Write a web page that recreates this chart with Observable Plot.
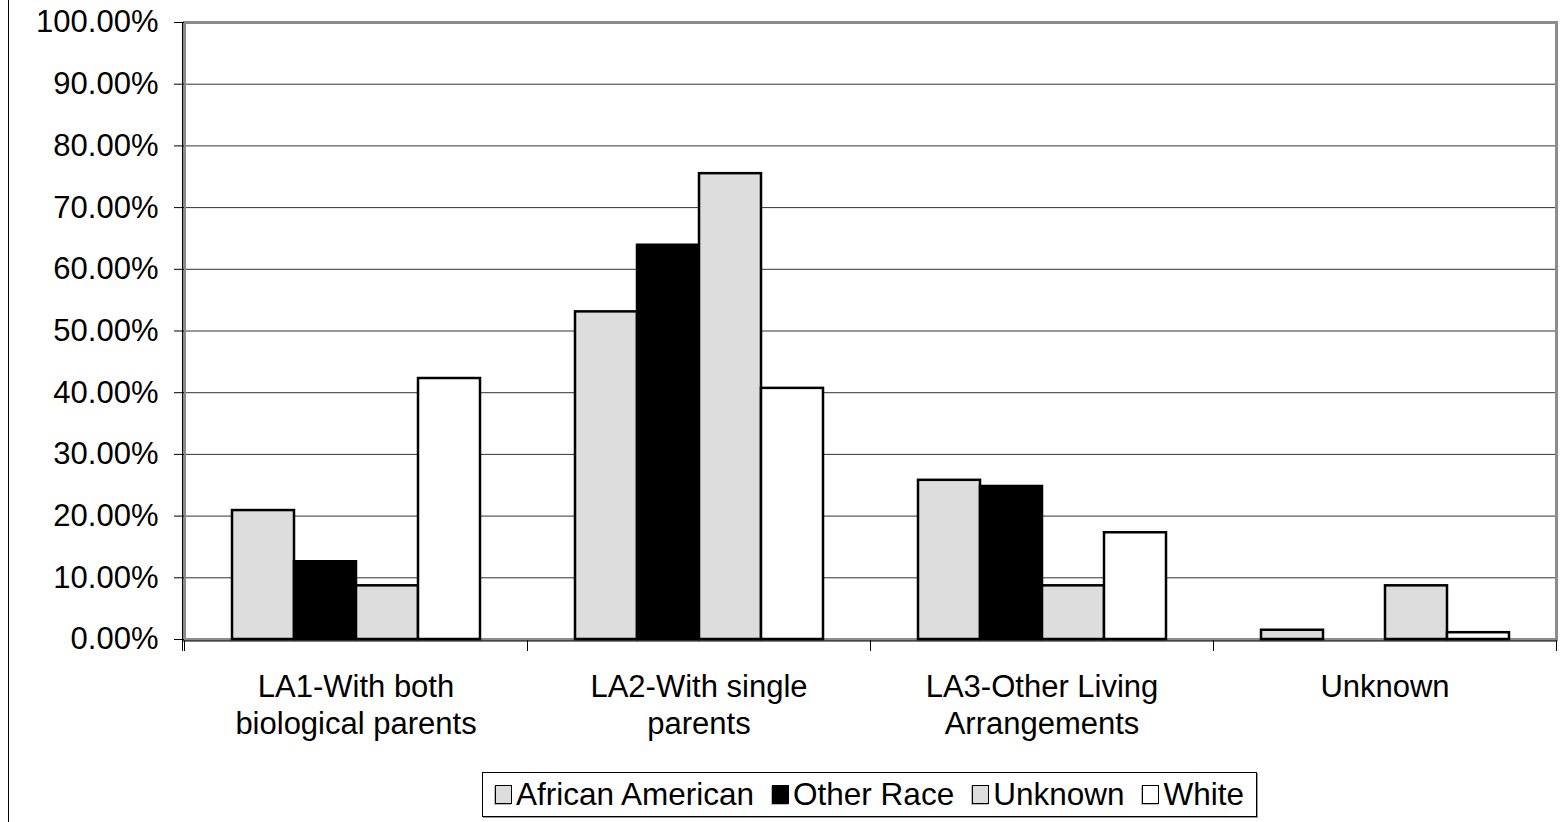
<!DOCTYPE html>
<html><head><meta charset="utf-8">
<script src="https://cdn.jsdelivr.net/npm/d3@7"></script>
<script src="https://cdn.jsdelivr.net/npm/@observablehq/plot@0.6"></script>
<style>
body{margin:0;background:#fff;font-family:"Liberation Sans",Arial,sans-serif;}
#wrap{position:relative;width:1564px;height:822px;overflow:hidden;background:#fff;}
#edge{position:absolute;left:8px;top:0;bottom:0;border-left:1px solid #000;}
#chart svg{display:block;}
#legendRow{display:flex;justify-content:center;padding-left:183px;padding-right:8px;margin-top:12px;}
.legend{display:flex;align-items:center;border:1px solid #000;box-shadow:1px 1px 0 #999;height:43px;padding:0 12px 0 12px;font-size:31.5px;color:#000;}
.item{display:flex;align-items:center;margin-right:18px;}
.item:last-child{margin-right:0;}
.sw{width:15px;height:17px;border:1.5px solid #000;margin-right:4px;box-shadow:-1px 1px 0 #bbb;}
</style></head>
<body>
<div id="wrap"><div id="edge"></div><div id="chart"></div><div id="legendRow"><div class="legend" id="legend"></div></div></div>
<script>
const categories = ["LA1", "LA2", "LA3", "Unknown"];
const categoryLabels = ["LA1-With both\nbiological parents", "LA2-With single\nparents", "LA3-Other Living\nArrangements", "Unknown"];
const series = ["African American", "Other Race", "Unknown", "White"];
const fills = ["#dddddd", "#000000", "#dddddd", "#ffffff"];
const africanAmerican = [0.209, 0.531, 0.258, 0.015];
const otherRace = [0.126, 0.639, 0.248, 0];
const unknownRace = [0.087, 0.755, 0.087, 0.087];
const white = [0.423, 0.407, 0.173, 0.011];
const yTicks = [0, 0.1, 0.2, 0.3, 0.4, 0.5, 0.6, 0.7, 0.8, 0.9, 1];
const yTickLabels = ["0.00%", "10.00%", "20.00%", "30.00%", "40.00%", "50.00%", "60.00%", "70.00%", "80.00%", "90.00%", "100.00%"];

const valuesBySeries = [africanAmerican, otherRace, unknownRace, white];
const rows = [];
categories.forEach((c, ci) => series.forEach((s, si) => {
  rows.push({category: c, series: s, value: valuesBySeries[si][ci]});
}));

const W = 1564, H = 760, mt = 22, mb = 121, ml = 183, mr = 8;
const plotH = H - mt - mb;

const chart = Plot.plot({
  width: W, height: H, marginTop: mt, marginBottom: mb, marginLeft: ml, marginRight: mr,
  style: {fontFamily: '"Liberation Sans", Arial, sans-serif', fontSize: "31px", color: "#000", background: "#fff"},
  fx: {domain: categories, padding: 0, axis: null, label: null},
  x: {domain: series, paddingInner: 0, paddingOuter: 0.75, axis: null},
  y: {domain: [0, 1], axis: null},
  color: {domain: series, range: fills},
  marks: [
    Plot.gridY(yTicks, {stroke: "#333333", strokeOpacity: 1, strokeWidth: 1}),
    Plot.frame({facet: "super", stroke: "#8c8c8c", strokeWidth: 3}),
    Plot.barY(rows.filter(d => d.value > 0), {fx: "category", x: "series", y: "value", fill: "series", stroke: "#000", strokeWidth: 2.5}),
    Plot.frame({facet: "super", anchor: "left", stroke: "#000", strokeWidth: 1, insetLeft: -2, insetBottom: -11}),
    Plot.frame({facet: "super", anchor: "bottom", stroke: "#000", strokeWidth: 1, insetBottom: -1.5, insetLeft: -2}),
    Plot.frame({anchor: "left", stroke: "#000", strokeWidth: 1, insetTop: plotH + 1.5, insetBottom: -11}),
    Plot.frame({anchor: "right", stroke: "#000", strokeWidth: 1, insetTop: plotH + 1.5, insetBottom: -11}),
    Plot.axisY({ticks: yTicks, tickFormat: d => yTickLabels[yTicks.indexOf(d)], tickSize: 10, tickPadding: 16, fontSize: 31, label: null}),
    Plot.axisFx({anchor: "bottom", tickSize: 0, tickPadding: 32, tickFormat: d => categoryLabels[categories.indexOf(d)], fontSize: 31, lineHeight: 1.17, label: null})
  ]
});
document.getElementById("chart").appendChild(chart);

const legend = document.getElementById("legend");
series.forEach((s, i) => {
  const item = document.createElement("div");
  item.className = "item";
  const sw = document.createElement("div");
  sw.className = "sw";
  sw.style.background = fills[i];
  const t = document.createElement("span");
  t.textContent = s;
  item.appendChild(sw); item.appendChild(t);
  legend.appendChild(item);
});
</script>
</body></html>
